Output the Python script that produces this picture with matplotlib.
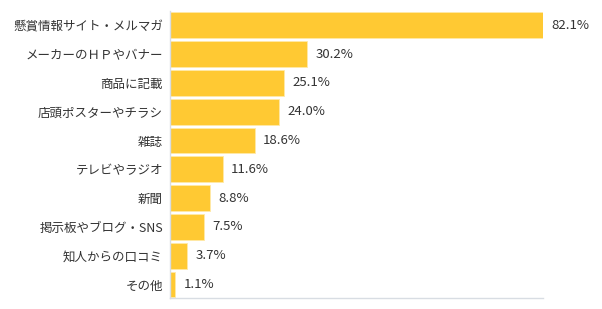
import matplotlib
matplotlib.use("Agg")
import matplotlib.pyplot as plt

plt.rcParams['font.family'] = ['Noto Sans CJK JP', 'DejaVu Sans']

categories = ["懸賞情報サイト・メルマガ", "メーカーのＨＰやバナー", "商品に記載", "店頭ポスターやチラシ",
              "雑誌", "テレビやラジオ", "新聞", "掲示板やブログ・SNS", "知人からの口コミ", "その他"]
values = [82.1, 30.2, 25.1, 24.0, 18.6, 11.6, 8.8, 7.5, 3.7, 1.1]
value_labels = ["82.1%", "30.2%", "25.1%", "24.0%", "18.6%", "11.6%", "8.8%", "7.5%", "3.7%", "1.1%"]

W, H = 602, 309
fig = plt.figure(figsize=(W / 100, H / 100), dpi=100)
ax = fig.add_axes([170 / W, 11 / H, (543 - 170) / W, (298 - 11) / H])

ypos = list(range(len(categories)))
ax.barh(ypos, values, height=0.9, color="#FFC933", edgecolor="#FFE9A8", linewidth=0.6)
ax.set_xlim(0, 82.0)
ax.set_ylim(len(categories) - 0.53, -0.5)

for y, v, lab in zip(ypos, values, value_labels):
    ax.annotate(lab, (v, y), xytext=(6, 0), textcoords="offset points",
                va="center", ha="left", fontsize=9.5, color="#333333")

ax.set_yticks(ypos)
ax.set_yticklabels(categories, fontsize=9, color="#333333")
ax.tick_params(axis="y", length=0, pad=5)
ax.set_xticks([])
for s in ["top", "right"]:
    ax.spines[s].set_visible(False)
ax.spines["left"].set_color("#d8dde3")
ax.spines["bottom"].set_color("#d8dde3")
ax.spines["left"].set_linewidth(1)
ax.spines["bottom"].set_linewidth(1)

fig.savefig("out.png", dpi=100)
